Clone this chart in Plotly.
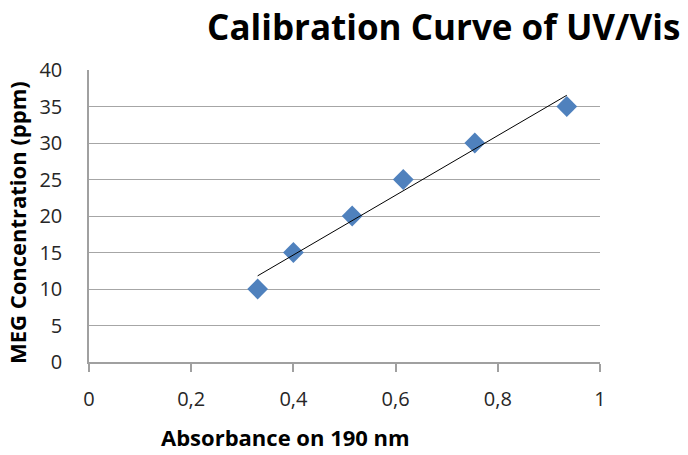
import numpy as np
import plotly.graph_objects as go

absorbance = [0.33, 0.40, 0.515, 0.615, 0.755, 0.935]
concentration = [10, 15, 20, 25, 30, 35]
x_ticks = [0, 0.2, 0.4, 0.6, 0.8, 1]
x_tick_labels = ["0", "0,2", "0,4", "0,6", "0,8", "1"]
y_ticks = [0, 5, 10, 15, 20, 25, 30, 35, 40]

slope, intercept = np.polyfit(absorbance, concentration, 1)
fit_x = [min(absorbance), max(absorbance)]
fit_y = [slope * v + intercept for v in fit_x]

fig = go.Figure()
fig.add_trace(go.Scatter(
    x=absorbance, y=concentration, mode="markers",
    marker=dict(symbol="diamond", size=16, color="#4F81BD"),
    showlegend=False,
))
fig.add_trace(go.Scatter(
    x=fit_x, y=fit_y, mode="lines",
    line=dict(color="black", width=1),
    showlegend=False,
))

tick_font = dict(family="Open Sans", size=20, color="#262626")
fig.update_layout(
    width=688, height=455,
    margin=dict(l=89, r=88, t=70, b=93, autoexpand=False),
    paper_bgcolor="white", plot_bgcolor="white",
    title=dict(text="<b>Calibration Curve of UV/Vis</b>",
               font=dict(family="Open Sans", size=35, color="black"),
               x=0.645, xanchor="center", y=0.94, yanchor="middle"),
    xaxis=dict(range=[0, 1], tickvals=x_ticks, ticktext=x_tick_labels,
               showgrid=False, zeroline=False, showline=True,
               linecolor="#A0A0A0", linewidth=1.5, ticks="outside",
               ticklen=8, tickcolor="#A0A0A0", tickwidth=1.5,
               tickfont=tick_font, ticklabelstandoff=10),
    yaxis=dict(range=[0, 40], tickvals=y_ticks,
               showgrid=True, gridcolor="#A6A6A6", gridwidth=1,
               zeroline=False, showline=True, linecolor="#A0A0A0",
               linewidth=1.5, ticks="", tickfont=tick_font,
               ticklabelstandoff=21),
    annotations=[
        dict(text="<b>Absorbance on 190 nm</b>", xref="paper", yref="paper",
             x=0.384, y=-0.257, xanchor="center", yanchor="middle",
             showarrow=False, font=dict(family="Open Sans", size=22, color="black")),
        dict(text="<b>MEG Concentration (ppm)</b>", xref="paper", yref="paper",
             x=-0.141, y=0.479, xanchor="center", yanchor="middle",
             textangle=-90, showarrow=False,
             font=dict(family="Open Sans", size=22, color="black")),
    ],
)
fig.write_html("out.html",
               config={"displayModeBar": False},
               post_script="document.body.style.margin='0';document.body.style.overflow='hidden';")
